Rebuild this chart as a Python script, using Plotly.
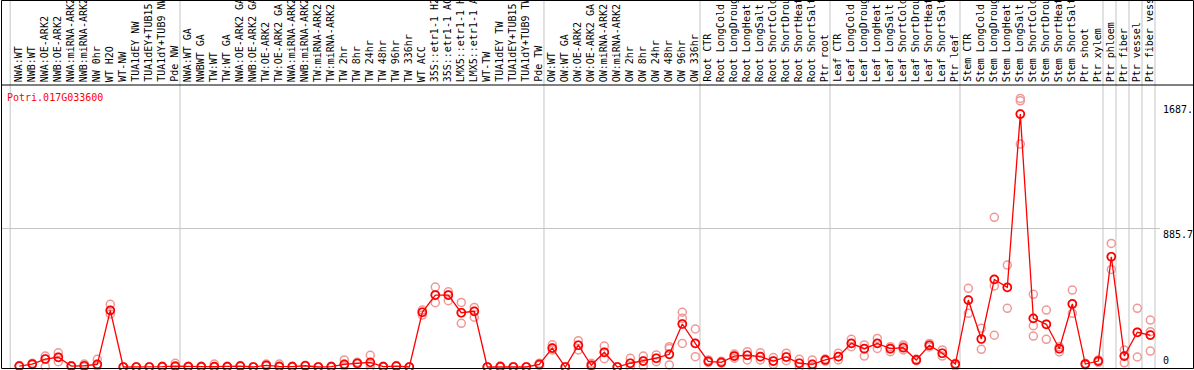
import plotly.graph_objects as go

title = "Potri.017G033600"

labels = [
    "NWA:WT", "NWB:WT", "NWA:OE-ARK2", "NWB:OE-ARK2", "NWA:miRNA-ARK2", "NWB:miRNA-ARK2",
    "NW 0hr", "WT H2O", "WT-NW", "TUA1dEY NW", "TUA1dEY+TUB15 NW", "TUA1dY+TUB9 NW", "Pde NW",
    "NWA:WT GA", "NWBWT GA", "TW:WT", "TW:WT GA", "NWA:OE-ARK2 GA", "NWB:OE-ARK2 GA",
    "TW:OE-ARK2", "TW:OE-ARK2 GA", "NWA:miRNA-ARK2", "NWB:miRNA-ARK2", "TW:miRNA-ARK2",
    "TW:miRNA-ARK2", "TW 2hr", "TW 8hr", "TW 24hr", "TW 48hr", "TW 96hr", "TW 336hr",
    "WT ACC", "35S::etr1-1 H2O", "35S::etr1-1 ACC", "LMX5::etr1-1 H2O", "LMX5::etr1-1 ACC",
    "WT-TW", "TUA1dEY TW", "TUA1dEY+TUB15 TW", "TUA1dY+TUB9 TW", "Pde TW",
    "OW:WT", "OW:WT GA", "OW:OE-ARK2", "OW:OE-ARK2 GA", "OW:miRNA-ARK2", "OW:miRNA-ARK2",
    "OW 2hr", "OW 8hr", "OW 24hr", "OW 48hr", "OW 96hr", "OW 336hr",
    "Root CTR", "Root LongCold", "Root LongDrought", "Root LongHeat", "Root LongSalt",
    "Root ShortCold", "Root ShortDrought", "Root ShortHeat", "Root ShortSalt", "Ptr root",
    "Leaf CTR", "Leaf LongCold", "Leaf LongDrought", "Leaf LongHeat", "Leaf LongSalt",
    "Leaf ShortCold", "Leaf ShortDrought", "Leaf ShortHeat", "Leaf ShortSalt", "Ptr leaf",
    "Stem CTR", "Stem LongCold", "Stem LongDrought", "Stem LongHeat", "Stem LongSalt",
    "Stem ShortCold", "Stem ShortDrought", "Stem ShortHeat", "Stem ShortSalt", "Ptr shoot",
    "Ptr xylem", "Ptr phloem", "Ptr fiber", "Ptr vessel", "Ptr fiber vessel",
]

means = [
    6, 19, 51, 62, 6, 8, 17, 362, 0, 0, 0, 2, 6,
    2, 2, 2, 2, 6, 0, 11, 4, 2, 8, 0, 2, 17, 24, 30, 2, 6, 0,
    350, 460, 460, 347, 356, 0, 2, 0, 0, 17,
    121, 0, 139, 11, 94, 0, 24, 38, 56, 81, 275, 151,
    36, 30, 70, 75, 66, 38, 64, 24, 17, 45,
    66, 151, 117, 151, 117, 123, 45, 139, 88, 19,
    428, 179, 560, 509, 1617, 311, 273, 117, 403, 19,
    38, 705, 70, 222, 204,
]

replicates = [
    [4, 6, 9], [15, 19, 24], [70, 51, 2], [91, 62, 34], [4, 6, 8], [19, 6, 2], [49, 17, 6],
    [401, 362, 339], [0, 0, 0], [0, 0, 0], [0, 0, 0], [0, 2, 4], [24, 2, 0],
    [2, 2, 4], [0, 2, 4], [19, 2, 0], [2, 2, 4], [4, 6, 9], [0, 0, 2], [19, 11, 6],
    [19, 2, 0], [0, 2, 4], [6, 8, 11], [0, 0, 2], [0, 2, 4], [45, 17, 6], [30, 24, 19],
    [75, 17, 0], [0, 2, 4], [4, 6, 9], [0, 0, 0],
    [364, 350, 332], [511, 460, 411], [481, 460, 424], [413, 347, 279], [381, 356, 318],
    [0, 0, 0], [0, 2, 6], [0, 0, 2], [0, 0, 2], [11, 17, 24],
    [142, 121, 109], [0, 0, 2], [168, 139, 109], [24, 11, 2], [134, 94, 53], [0, 0, 2],
    [56, 24, 0], [70, 38, 6], [77, 56, 34], [130, 119, 81, 13], [350, 311, 275, 151],
    [243, 151, 66],
    [45, 36, 30], [36, 30, 24], [83, 70, 56], [98, 75, 45], [91, 66, 45], [60, 38, 17],
    [88, 64, 40], [49, 24, 0], [45, 17, 2], [51, 45, 38],
    [88, 66, 45], [177, 151, 130], [141, 117, 70], [183, 151, 119], [130, 117, 98],
    [141, 130, 109], [51, 45, 40], [151, 139, 128], [109, 88, 70], [24, 19, 6],
    [503, 428, 343], [247, 179, 113], [957, 560, 518, 203], [652, 509, 375],
    [1717, 1702, 1617, 1425], [465, 311, 264, 198], [364, 273, 177], [130, 117, 96],
    [492, 403, 343], [24, 19, 13],
    [45, 38, 30], [790, 705, 624], [109, 70, 27], [375, 222, 64], [300, 226, 204, 102],
]

# group boundaries: index of last sample in each group
group_ends = [12, 40, 52, 62, 72, 83, 84, 85, 86, 87]
tick_vals = [0, 885.7, 1687]
tick_text = ["0", "885.7", "1687."]
grid_vals = [885.7]

# ---- geometry ----
W, H = 1194, 370
ML, MR, MT, MB = 2, 39, 85, 1
PW, PH = W - ML - MR, H - MT - MB
X0, X1 = -1.33, 87.36
Y0, Y1 = -12.8, 1803.0


def px_x(p):
    return (p - ML) / PW


def px_y(p):
    return (H - MB - p) / PH


def idx_paper(i):
    return (i - X0) / (X1 - X0)


FONT = "DejaVu Sans Mono"

fig = go.Figure()

rx, ry = [], []
for i, rr in enumerate(replicates):
    for v in rr:
        rx.append(i)
        ry.append(v)

fig.add_trace(go.Scatter(
    x=rx, y=ry, mode="markers", cliponaxis=False, hoverinfo="skip",
    marker=dict(symbol="circle-open", size=8, color="#f09898", line=dict(width=1.5)),
))
fig.add_trace(go.Scatter(
    x=list(range(len(means))), y=means, mode="lines+markers", cliponaxis=False,
    line=dict(color="#ff0000", width=1.3),
    marker=dict(symbol="circle-open", size=8, color="#ff0000", line=dict(width=1.7)),
))

shapes = []
sep = [-0.7] + [g + 0.36 for g in group_ends]
for s in sep:
    xp = idx_paper(s)
    shapes.append(dict(type="line", xref="paper", yref="paper", x0=xp, x1=xp,
                       y0=px_y(369), y1=px_y(0), line=dict(color="#c4c4c4", width=1),
                       layer="below"))
for g in grid_vals:
    shapes.append(dict(type="line", xref="paper", yref="y", x0=0, x1=px_x(1160),
                       y0=g, y1=g, line=dict(color="#c4c4c4", width=1), layer="below"))
shapes.append(dict(type="rect", xref="paper", yref="paper", x0=px_x(1.5), x1=px_x(1193.5),
                   y0=px_y(368.5), y1=px_y(0.5), line=dict(color="black", width=1)))
shapes.append(dict(type="line", xref="paper", yref="paper", x0=px_x(1.5), x1=px_x(1193.5),
                   y0=px_y(85), y1=px_y(85), line=dict(color="black", width=1)))

annotations = []
for i, lab in enumerate(labels):
    annotations.append(dict(
        x=i, xref="x", y=px_y(83), yref="paper", text=lab, textangle=-90,
        xanchor="center", yanchor="bottom", showarrow=False, xshift=-1,
        font=dict(family=FONT, size=10, color="black"), borderpad=0,
    ))
annotations.append(dict(
    x=px_x(6), xref="paper", y=px_y(97), yref="paper", text=title,
    xanchor="left", yanchor="middle", showarrow=False,
    font=dict(family=FONT, size=10, color="#ff0000"), borderpad=0,
))
for v, t in zip(tick_vals, tick_text):
    annotations.append(dict(
        x=px_x(1162), xref="paper", y=v, yref="y", text=t,
        xanchor="left", yanchor="bottom" if v == 0 else "top", showarrow=False,
        font=dict(family=FONT, size=10, color="black"), borderpad=0,
    ))

fig.update_layout(
    width=W, height=H, margin=dict(l=ML, r=MR, t=MT, b=MB, pad=0, autoexpand=False),
    paper_bgcolor="white", plot_bgcolor="white", showlegend=False,
    xaxis=dict(range=[X0, X1], visible=False),
    yaxis=dict(range=[Y0, Y1], visible=False),
    shapes=shapes, annotations=annotations, hovermode=False,
)

fig.write_html(
    "out.html",
    config={"displayModeBar": False, "staticPlot": True},
    post_script="document.body.style.margin='0';document.body.style.overflow='hidden';",
)
